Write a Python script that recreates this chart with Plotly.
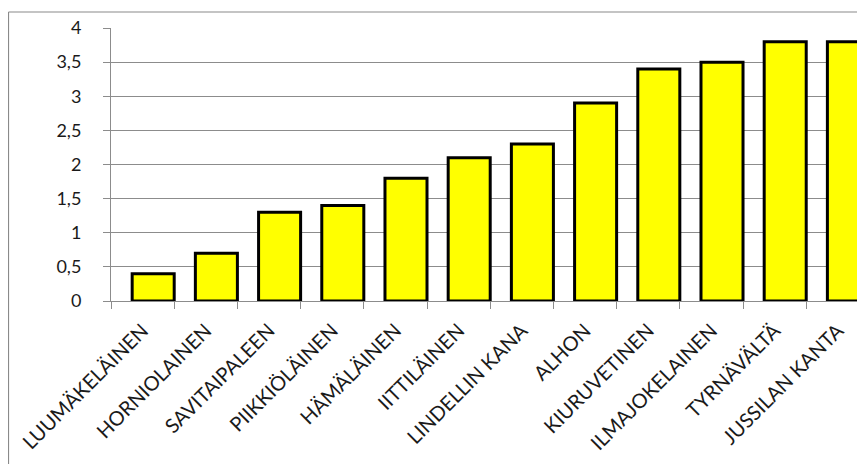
import plotly.graph_objects as go

categories = ["LUUMÄKELÄINEN", "HORNIOLAINEN", "SAVITAIPALEEN", "PIIKKIÖLÄINEN",
              "HÄMÄLÄINEN", "IITTILÄINEN", "LINDELLIN KANA", "ALHON",
              "KIURUVETINEN", "ILMAJOKELAINEN", "TYRNÄVÄLTÄ", "JUSSILAN KANTA"]
values = [0.4, 0.7, 1.3, 1.4, 1.8, 2.1, 2.3, 2.9, 3.4, 3.5, 3.8, 3.8]
y_ticks = [0, 0.5, 1, 1.5, 2, 2.5, 3, 3.5, 4]

# page body has an 8px margin, so the figure is offset by 8px in the window
OFF = 8
W, H = 865 - OFF, 464 - OFF
L, R, T = 111 - OFF, 0, 28 - OFF
B = H - (301 - OFF)
pw, ph = W - L - R, H - T - B

def px_to_paper_x(px):
    return (px - OFF - L) / pw

def px_to_paper_y(py):
    return (H - B - (py - OFF)) / ph

fig = go.Figure()
fig.add_trace(go.Bar(
    x=categories, y=values,
    width=0.665, offset=-0.165,
    marker=dict(color="#FFFF00", line=dict(color="#000000", width=3)),
))

grid = "#8C8C8C"
fig.update_layout(
    width=W, height=H, autosize=False,
    margin=dict(l=L, r=R, t=T, b=B, pad=0, autoexpand=False),
    paper_bgcolor="white", plot_bgcolor="white",
    separators=", ",
    showlegend=False,
    font=dict(family="Lato, Open Sans, sans-serif", size=18, color="#000000"),
    xaxis=dict(
        type="category", range=[-0.5, 11.43], automargin=False,
        tickson="boundaries", ticks="outside", ticklen=7, tickcolor=grid, tickwidth=1,
        showline=True, linecolor=grid, linewidth=1,
        showgrid=False, tickangle=-45, ticklabelstandoff=9,
        tickfont=dict(size=20, color="#1a1a1a"),
    ),
    yaxis=dict(
        range=[0, 4], tickvals=y_ticks, automargin=False,
        ticks="outside", ticklen=7, tickcolor=grid, tickwidth=1,
        showline=True, linecolor=grid, linewidth=1,
        showgrid=True, gridcolor=grid, gridwidth=1,
        zeroline=False, ticklabelstandoff=18,
        tickfont=dict(size=18, color="#1a1a1a"),
    ),
    shapes=[
        dict(type="line", xref="paper", yref="paper",
             x0=px_to_paper_x(8.5), x1=px_to_paper_x(8.5),
             y0=px_to_paper_y(12), y1=px_to_paper_y(470),
             line=dict(color="#8A8A8A", width=1.2)),
        dict(type="line", xref="paper", yref="paper",
             x0=px_to_paper_x(8.5), x1=px_to_paper_x(870),
             y0=px_to_paper_y(12), y1=px_to_paper_y(12),
             line=dict(color="#8A8A8A", width=1.2)),
    ],
)

fig.write_html("out.html")
